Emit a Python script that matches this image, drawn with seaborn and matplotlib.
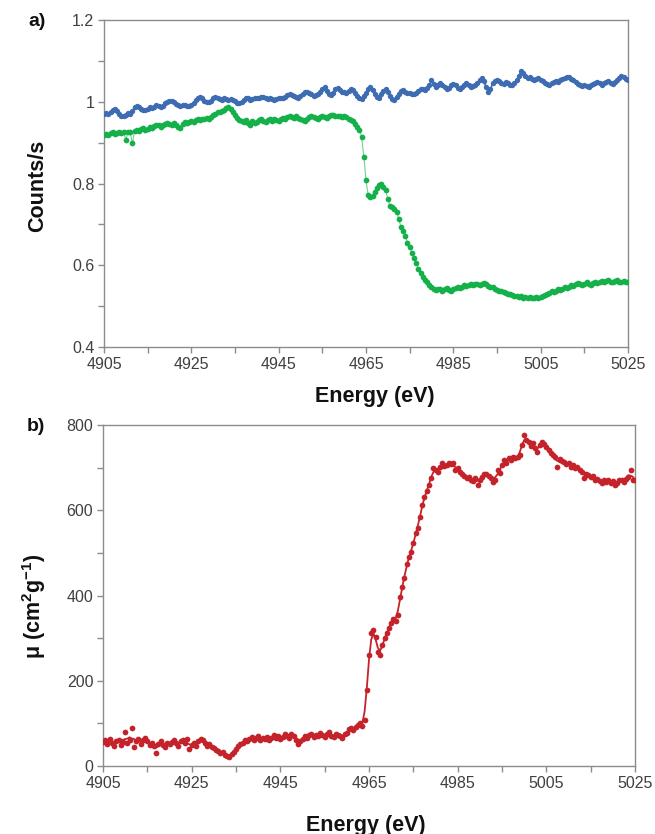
import numpy as np
import pandas as pd
import matplotlib
matplotlib.use("Agg")
import matplotlib.pyplot as plt
import seaborn as sns
from matplotlib.ticker import FixedLocator, FuncFormatter

# ---------------- data (0.5 eV steps from 4905 eV) ----------------
E_START = 4905.0
E_STEP = 0.5

blue_counts = [
    0.971, 0.973, 0.970, 0.976, 0.980, 0.983, 0.978, 0.970, 0.966, 0.965,
    0.968, 0.972, 0.970, 0.978, 0.986, 0.990, 0.986, 0.982, 0.980, 0.979,
    0.982, 0.986, 0.984, 0.988, 0.991, 0.990, 0.986, 0.990, 0.996, 0.999,
    1.001, 1.003, 0.999, 0.995, 0.991, 0.990, 0.993, 0.991, 0.989, 0.990,
    0.992, 0.996, 1.004, 1.010, 1.012, 1.008, 1.003, 1.000, 0.999, 1.003,
    1.008, 1.011, 1.009, 1.006, 1.005, 1.008, 1.007, 1.004, 1.006, 1.004,
    1.001, 0.998, 0.997, 1.000, 1.005, 1.010, 1.008, 1.004, 1.006, 1.009,
    1.008, 1.010, 1.012, 1.011, 1.008, 1.006, 1.008, 1.007, 1.005, 1.006,
    1.008, 1.010, 1.009, 1.012, 1.016, 1.020, 1.017, 1.014, 1.011, 1.010,
    1.014, 1.019, 1.024, 1.025, 1.021, 1.018, 1.015, 1.017, 1.020, 1.024,
    1.030, 1.035, 1.027, 1.020, 1.017, 1.022, 1.030, 1.033, 1.028, 1.024,
    1.025, 1.022, 1.027, 1.031, 1.028, 1.022, 1.014, 1.008, 1.006, 1.014,
    1.022, 1.030, 1.035, 1.028, 1.019, 1.012, 1.010, 1.018, 1.026, 1.031,
    1.024, 1.014, 1.006, 1.005, 1.012, 1.020, 1.027, 1.028, 1.024, 1.021,
    1.022, 1.020, 1.018, 1.022, 1.027, 1.030, 1.031, 1.028, 1.033, 1.040,
    1.052, 1.044, 1.036, 1.040, 1.045, 1.042, 1.035, 1.030, 1.034, 1.040,
    1.044, 1.040, 1.034, 1.032, 1.037, 1.042, 1.046, 1.041, 1.036, 1.038,
    1.040, 1.046, 1.052, 1.058, 1.050, 1.035, 1.024, 1.030, 1.045, 1.050,
    1.053, 1.050, 1.046, 1.044, 1.048, 1.045, 1.042, 1.040, 1.045, 1.052,
    1.062, 1.076, 1.070, 1.062, 1.058, 1.060, 1.055, 1.052, 1.056, 1.058,
    1.054, 1.050, 1.046, 1.044, 1.042, 1.045, 1.048, 1.050, 1.048, 1.052,
    1.055, 1.058, 1.061, 1.060, 1.056, 1.052, 1.048, 1.044, 1.040, 1.038,
    1.040, 1.038, 1.036, 1.040, 1.044, 1.046, 1.048, 1.046, 1.042, 1.045,
    1.048, 1.050, 1.046, 1.044, 1.048, 1.052, 1.058, 1.062, 1.060, 1.055,
    1.053,
]

green_counts = [
    0.918, 0.921, 0.919, 0.923, 0.925, 0.922, 0.924, 0.927, 0.924, 0.926,
    0.906, 0.927, 0.925, 0.898, 0.929, 0.931, 0.928, 0.933, 0.936, 0.932,
    0.934, 0.938, 0.935, 0.940, 0.944, 0.942, 0.939, 0.943, 0.946, 0.948,
    0.946, 0.944, 0.948, 0.943, 0.938, 0.936, 0.945, 0.950, 0.948, 0.951,
    0.953, 0.950, 0.955, 0.958, 0.956, 0.959, 0.957, 0.960, 0.958, 0.962,
    0.967, 0.970, 0.974, 0.976, 0.978, 0.980, 0.984, 0.987, 0.982, 0.975,
    0.968, 0.960, 0.955, 0.952, 0.950, 0.955, 0.948, 0.944, 0.952, 0.948,
    0.951, 0.955, 0.958, 0.953, 0.950, 0.955, 0.957, 0.954, 0.958, 0.956,
    0.954, 0.958, 0.960, 0.957, 0.962, 0.966, 0.963, 0.960, 0.965, 0.961,
    0.958, 0.955, 0.954, 0.958, 0.962, 0.966, 0.963, 0.960, 0.959, 0.962,
    0.965, 0.963, 0.960, 0.964, 0.967, 0.968, 0.966, 0.964, 0.965, 0.962,
    0.964, 0.962, 0.958, 0.955, 0.952, 0.946, 0.938, 0.932, 0.914, 0.866,
    0.808, 0.771, 0.766, 0.770, 0.780, 0.788, 0.797, 0.800, 0.792, 0.784,
    0.762, 0.745, 0.742, 0.738, 0.731, 0.712, 0.694, 0.684, 0.672, 0.655,
    0.645, 0.630, 0.618, 0.605, 0.592, 0.580, 0.572, 0.565, 0.560, 0.552,
    0.546, 0.542, 0.540, 0.543, 0.541, 0.538, 0.542, 0.544, 0.540, 0.537,
    0.542, 0.545, 0.547, 0.544, 0.548, 0.551, 0.549, 0.552, 0.554, 0.551,
    0.553, 0.555, 0.552, 0.554, 0.556, 0.553, 0.550, 0.547, 0.546, 0.543,
    0.540, 0.538, 0.536, 0.535, 0.532, 0.530, 0.529, 0.527, 0.525, 0.524,
    0.522, 0.524, 0.521, 0.523, 0.520, 0.522, 0.519, 0.521, 0.523, 0.520,
    0.522, 0.525, 0.528, 0.530, 0.533, 0.536, 0.534, 0.538, 0.541, 0.540,
    0.543, 0.546, 0.544, 0.548, 0.551, 0.549, 0.553, 0.556, 0.554, 0.552,
    0.555, 0.558, 0.555, 0.552, 0.556, 0.559, 0.557, 0.560, 0.562, 0.559,
    0.561, 0.563, 0.560, 0.558, 0.561, 0.563, 0.560, 0.558, 0.561, 0.560,
    0.559,
]

mu_values = [
    57, 60, 52, 63, 55, 48, 58, 62, 50, 56,
    79, 54, 60, 88, 45, 58, 63, 52, 60, 66,
    58, 50, 55, 48, 30, 52, 58, 49, 45, 55,
    52, 57, 60, 54, 48, 58, 62, 55, 63, 40,
    50, 55, 47, 58, 63, 60, 54, 48, 52, 45,
    42, 38, 35, 30, 33, 26, 24, 22, 28, 32,
    40, 46, 52, 55, 60, 58, 64, 67, 60, 65,
    70, 62, 66, 63, 68, 60, 65, 72, 66, 71,
    64, 68, 74, 70, 66, 75, 70, 62, 51, 58,
    64, 70, 66, 72, 75, 68, 73, 70, 77, 72,
    68, 74, 80, 71, 69, 75, 72, 70, 66, 74,
    78, 86, 90, 84, 92, 96, 100, 95, 108, 178,
    260, 311, 319, 303, 268, 260, 284, 300, 311, 324,
    336, 346, 340, 354, 397, 421, 440, 475, 490, 503,
    522, 546, 558, 585, 612, 631, 645, 659, 675, 698,
    694, 690, 702, 710, 704, 706, 712, 708, 710, 694,
    700, 690, 686, 680, 675, 678, 671, 668, 676, 659,
    672, 679, 684, 686, 680, 676, 667, 672, 694, 688,
    705, 718, 712, 722, 718, 726, 722, 726, 729, 753,
    776, 765, 761, 750, 757, 746, 737, 752, 761, 755,
    748, 741, 735, 730, 726, 702, 720, 716, 714, 708,
    710, 702, 705, 698, 702, 694, 690, 675, 686, 682,
    678, 680, 671, 674, 668, 663, 670, 666, 671, 665,
    668, 660, 664, 670, 671, 667, 674, 678, 694, 671,
    671,
]

x_major = [4905, 4925, 4945, 4965, 4985, 5005, 5025]
x_minor = [4915, 4935, 4955, 4975, 4995, 5015]
ya_major = [0.4, 0.6, 0.8, 1.0, 1.2]
ya_minor = [0.5, 0.7, 0.9, 1.1]
yb_major = [0, 200, 400, 600, 800]
yb_minor = [100, 300, 500, 700]


def energies(values):
    return E_START + E_STEP * np.arange(len(values))


df_blue = pd.DataFrame({"E": energies(blue_counts), "v": blue_counts})
df_green = pd.DataFrame({"E": energies(green_counts), "v": green_counts})
df_mu = pd.DataFrame({"E": energies(mu_values), "v": mu_values})
df_mu["smooth"] = df_mu["v"].rolling(3, center=True, min_periods=1).mean()

# ---------------- style ----------------
sns.set_theme(style="white")
plt.rcParams["font.family"] = ["Liberation Sans", "DejaVu Sans"]
plt.rcParams["mathtext.fontset"] = "custom"
plt.rcParams["mathtext.rm"] = "Liberation Sans:bold"
plt.rcParams["mathtext.it"] = "Liberation Sans:bold"
plt.rcParams["mathtext.bf"] = "Liberation Sans:bold"

BLUE = "#3d6cb3"
GREEN = "#14b04a"
RED = "#c4232b"
SPINE = "#8c8c8c"
TICKTXT = "#404040"

W, H = 655, 834
fig = plt.figure(figsize=(W / 100, H / 100), dpi=100)
fig.patch.set_facecolor("white")


def px_axes(l, t, r, b):
    return fig.add_axes([l / W, 1 - b / H, (r - l) / W, (b - t) / H])


axa = px_axes(104, 20, 628, 347)
axb = px_axes(103, 425, 635, 766)

# Panel a
sns.lineplot(data=df_blue, x="E", y="v", ax=axa, color=BLUE, lw=1.2,
             estimator=None, sort=False)
sns.scatterplot(data=df_blue, x="E", y="v", ax=axa, color=BLUE, s=15,
                linewidth=0, zorder=3)
sns.lineplot(data=df_green, x="E", y="v", ax=axa, color=GREEN, lw=0.8,
             alpha=0.6, estimator=None, sort=False)
sns.scatterplot(data=df_green, x="E", y="v", ax=axa, color=GREEN, s=17,
                linewidth=0, zorder=3)
axa.set_ylim(0.4, 1.2)

# Panel b
sns.lineplot(data=df_mu, x="E", y="smooth", ax=axb, color=RED, lw=1.3,
             estimator=None, sort=False)
sns.scatterplot(data=df_mu, x="E", y="v", ax=axb, color=RED, s=17,
                linewidth=0, zorder=3)
axb.set_ylim(0, 800)

for ax in (axa, axb):
    ax.set_xlim(4905, 5025)
    ax.xaxis.set_major_locator(FixedLocator(x_major))
    ax.xaxis.set_minor_locator(FixedLocator(x_minor))
    ax.set_xlabel("")
    ax.set_ylabel("")
    ax.tick_params(which="both", direction="out", length=4, width=1,
                   color=SPINE, bottom=True, left=True, top=False, right=False,
                   labelsize=11.5, labelcolor=TICKTXT, pad=3)
    for sp in ax.spines.values():
        sp.set_visible(True)
        sp.set_color(SPINE)
        sp.set_linewidth(1.0)
    ax.set_facecolor("white")
    ax.grid(False)

axa.yaxis.set_major_locator(FixedLocator(ya_major))
axa.yaxis.set_minor_locator(FixedLocator(ya_minor))
axa.yaxis.set_major_formatter(FuncFormatter(lambda v, p: f"{v:g}"))
axb.yaxis.set_major_locator(FixedLocator(yb_major))
axb.yaxis.set_minor_locator(FixedLocator(yb_minor))
axb.yaxis.set_major_formatter(FuncFormatter(lambda v, p: f"{v:g}"))

# Labels
def ftext(x, y, s, **kw):
    fig.text(x / W, 1 - y / H, s, ha="center", va="center", **kw)


ftext(375, 397, "Energy (eV)", fontsize=15.5, fontweight="bold", color="#111111")
ftext(366, 825, "Energy (eV)", fontsize=15.5, fontweight="bold", color="#111111")
ftext(38, 186, "Counts/s", fontsize=15.5, fontweight="bold", rotation=90,
      color="#111111")
ftext(34, 606, "μ (cm$^{2}$g$^{-1}$)", fontsize=15.5, fontweight="bold",
      rotation=90, color="#111111")
ftext(37, 22, "a)", fontsize=14, fontweight="bold", color="#111111")
ftext(36, 426, "b)", fontsize=14, fontweight="bold", color="#111111")

fig.savefig("out.png", dpi=100, facecolor="white")
